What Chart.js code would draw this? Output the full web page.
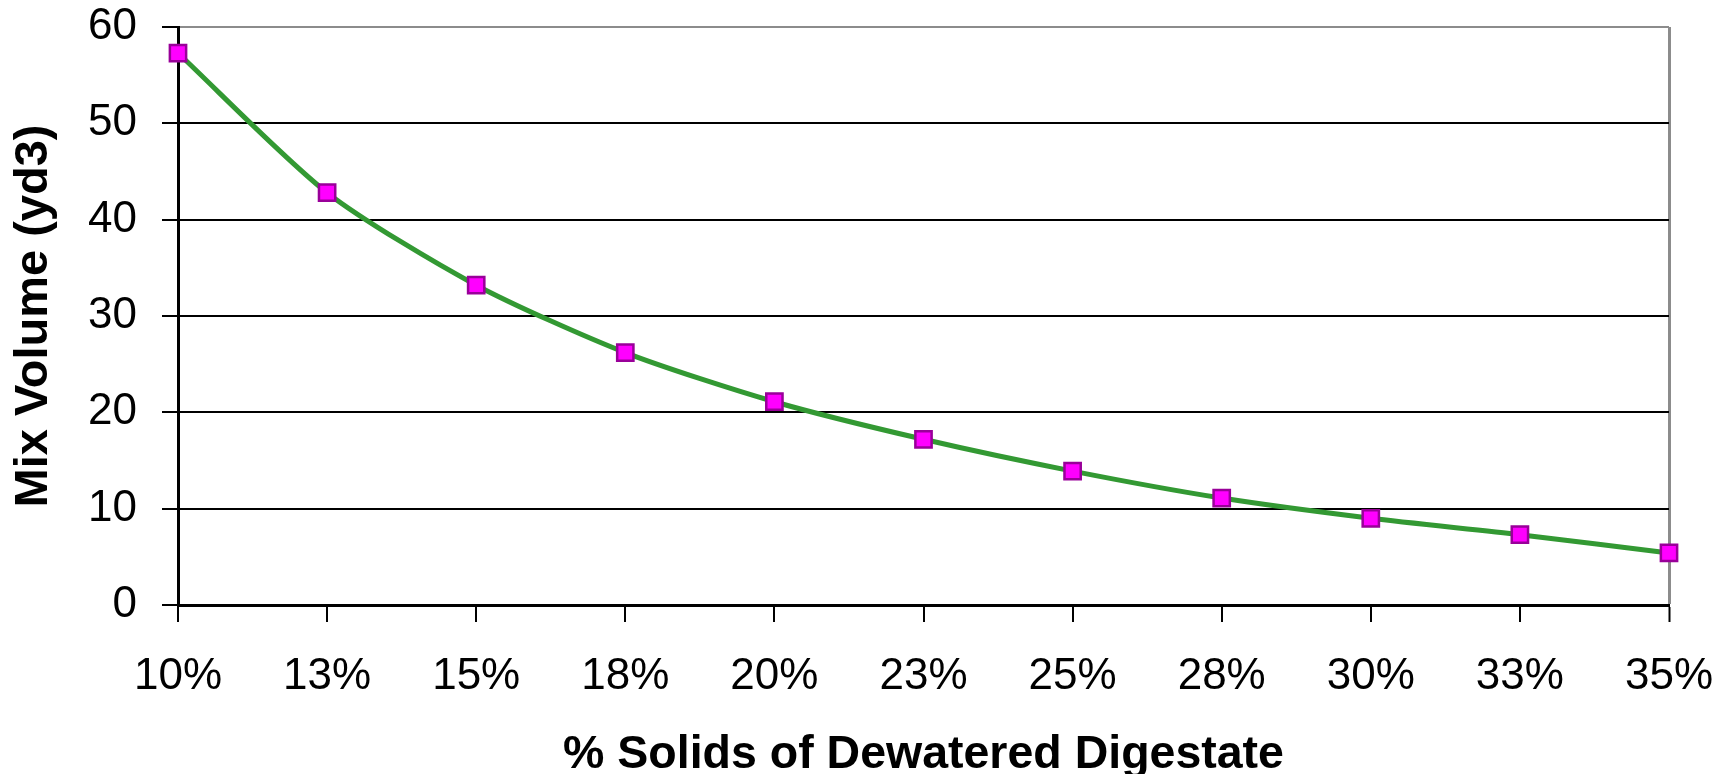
<!DOCTYPE html>
<html>
<head>
<meta charset="utf-8">
<script src="https://cdn.jsdelivr.net/npm/chart.js@4/dist/chart.umd.min.js"></script>
<style>
  html, body { margin: 0; padding: 0; background: #fff; }
  canvas { display: block; }
</style>
</head>
<body>
<canvas id="c" width="1733" height="774"></canvas>
<script>
// % solids of the dewatered digestate (category axis)
const solidsLabels = ['10%', '13%', '15%', '18%', '20%', '23%', '25%', '28%', '30%', '33%', '35%'];
// Mix volume in cubic yards for each solids level
const mixVolume = [57.3, 42.8, 33.2, 26.2, 21.1, 17.2, 13.9, 11.1, 9.0, 7.3, 5.4];
// Y axis range and step
const yMin = 0;
const yMax = 60;
const yStep = 10;

const FONT = "'Liberation Sans', Arial, Helvetica, sans-serif";

new Chart(document.getElementById('c'), {
  type: 'line',
  data: {
    labels: solidsLabels,
    datasets: [{
      data: mixVolume,
      borderColor: '#339933',
      borderWidth: 5,
      tension: 0.25,
      pointStyle: 'rect',
      pointRadius: 11.5,
      pointBorderWidth: 2.5,
      pointBackgroundColor: '#ff00ff',
      pointBorderColor: '#990099',
      clip: false
    }]
  },
  options: {
    responsive: false,
    animation: false,
    events: [],
    layout: { padding: { top: 27, right: 64, left: 0, bottom: 0 } },
    plugins: {
      legend: { display: false },
      tooltip: { enabled: false }
    },
    scales: {
      x: {
        type: 'category',
        offset: false,
        border: { display: true, color: '#000', width: 3 },
        grid: {
          display: true,
          drawOnChartArea: true,
          drawTicks: true,
          tickLength: 17,
          lineWidth: ctx => (ctx.index === solidsLabels.length - 1 ? 3 : 2),
          color: ctx => (ctx.index === solidsLabels.length - 1 ? '#8c8c8c' : 'rgba(0,0,0,0)'),
          tickColor: '#000',
          tickWidth: 2
        },
        ticks: {
          color: '#000',
          font: { family: FONT, size: 44 },
          padding: 28,
          maxRotation: 0,
          autoSkip: false
        },
        title: {
          display: true,
          text: '% Solids of Dewatered Digestate',
          color: '#000',
          font: { family: FONT, size: 46.5, weight: 'bold', lineHeight: 0.8 },
          padding: { top: 0, bottom: 0 }
        },
        afterFit: s => {
          s.height = 169;
          s.paddingLeft = 0;
          s.paddingRight = 0;
        }
      },
      y: {
        min: yMin,
        max: yMax,
        border: { display: true, color: '#000', width: 3 },
        grid: {
          display: true,
          drawTicks: true,
          tickLength: 16,
          lineWidth: 2,
          color: ctx => (ctx.tick && ctx.tick.value === yMax ? '#8c8c8c' : '#000'),
          tickColor: '#000',
          tickWidth: 2
        },
        ticks: {
          stepSize: yStep,
          color: '#000',
          font: { family: FONT, size: 44 },
          padding: 25
        },
        title: {
          display: true,
          text: 'Mix Volume (yd3)',
          color: '#000',
          font: { family: FONT, size: 47, weight: 'bold', lineHeight: 1.0 },
          padding: { top: 11, bottom: 0 }
        },
        afterFit: s => {
          s.width = 178;
          s.paddingTop = 0;
          s.paddingBottom = 0;
        }
      }
    }
  }
});
</script>
</body>
</html>
